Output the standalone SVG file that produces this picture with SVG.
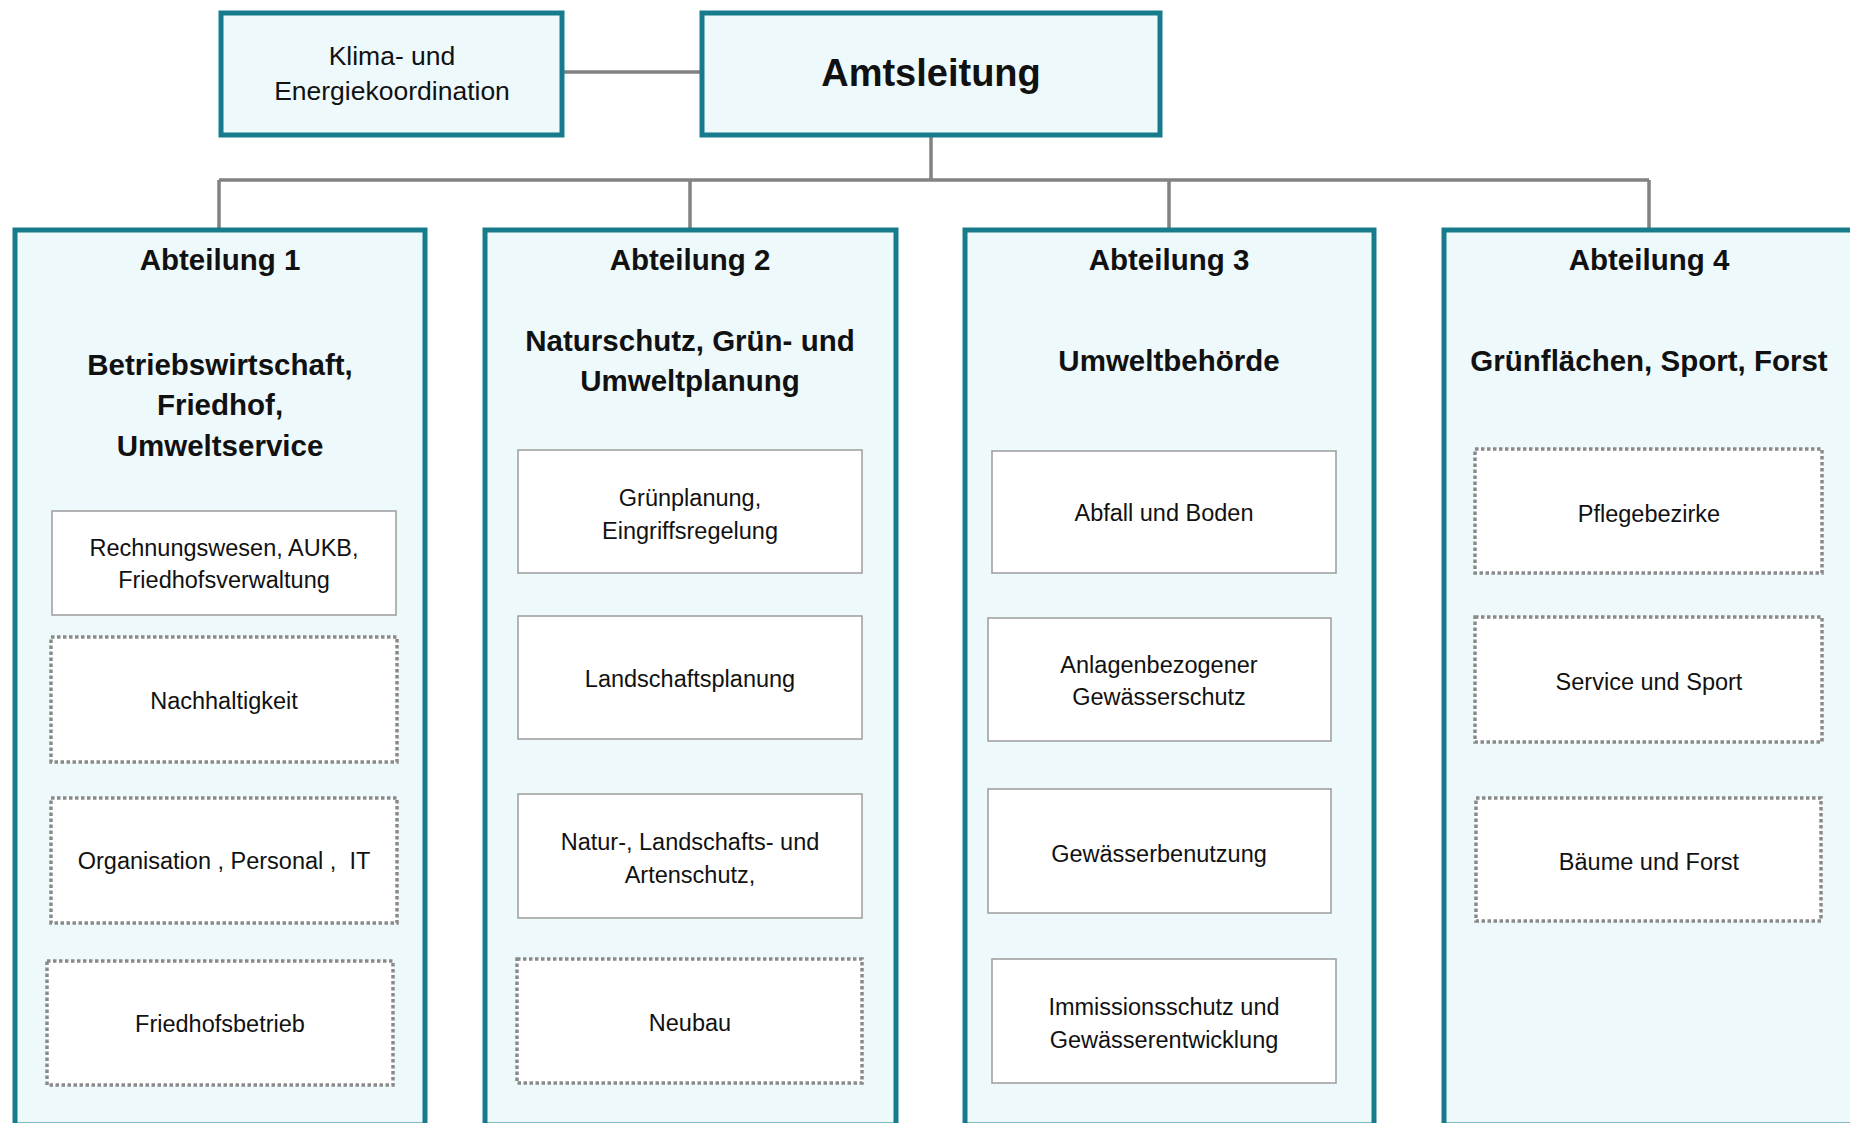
<svg xmlns="http://www.w3.org/2000/svg" width="1850" height="1123" viewBox="0 0 1850 1123">
<style>
  .top { fill: #EEF9FC; stroke: #167C8B; stroke-width: 5; }
  .dept { fill: #EEF9FC; stroke: #167C8B; stroke-width: 5; }
  .sub { fill: #FFFFFF; stroke: #9C9C9C; stroke-width: 1.5; }
  .dot { fill: #FFFFFF; stroke: #8A8A8A; stroke-width: 3.5; stroke-dasharray: 3.5 2.5; }
  .conn { fill: none; stroke: #828282; stroke-width: 3.5; }
  text { font-family: "Liberation Sans", Arial, sans-serif; fill: #111111; text-anchor: middle; }
  .t { font-size: 23.5px; }
  .k { font-size: 26.5px; }
  .h { font-size: 29.5px; font-weight: bold; }
  .amt { font-size: 38px; font-weight: bold; }
</style>
<rect width="1850" height="1123" fill="#FFFFFF"/>

<g id="connectors">
  <line class="conn" x1="563" y1="72" x2="701" y2="72" stroke-width="4.5"/>
  <line class="conn" x1="931" y1="135" x2="931" y2="180"/>
  <line class="conn" x1="219" y1="180" x2="1649" y2="180"/>
  <line class="conn" x1="219" y1="180" x2="219" y2="228"/>
  <line class="conn" x1="690" y1="180" x2="690" y2="228"/>
  <line class="conn" x1="1169" y1="180" x2="1169" y2="228"/>
  <line class="conn" x1="1649" y1="180" x2="1649" y2="228"/>
</g>

<g id="klima">
  <rect class="top" x="221" y="13" width="341" height="122"/>
  <text class="k" x="392" y="65">Klima- und</text>
  <text class="k" x="392" y="100">Energiekoordination</text>
</g>

<g id="amtsleitung">
  <rect class="top" x="702" y="13" width="458" height="122"/>
  <text class="amt" x="931" y="86">Amtsleitung</text>
</g>

<g id="abteilung1">
  <rect class="dept" x="15" y="230" width="410" height="895"/>
  <text class="h" x="220" y="270">Abteilung 1</text>
  <text class="h" x="220" y="375">Betriebswirtschaft,</text>
  <text class="h" x="220" y="415">Friedhof,</text>
  <text class="h" x="220" y="456">Umweltservice</text>
</g>
<g id="a1-rechnungswesen">
  <rect class="sub" x="52" y="511" width="344" height="104"/>
  <text class="t" x="224" y="556">Rechnungswesen, AUKB,</text>
  <text class="t" x="224" y="588">Friedhofsverwaltung</text>
</g>
<g id="a1-nachhaltigkeit">
  <rect class="dot" x="51" y="637" width="346" height="125"/>
  <text class="t" x="224" y="709">Nachhaltigkeit</text>
</g>
<g id="a1-organisation">
  <rect class="dot" x="51" y="798" width="346" height="125"/>
  <text class="t" x="224" y="869" xml:space="preserve">Organisation , Personal ,  IT</text>
</g>
<g id="a1-friedhofsbetrieb">
  <rect class="dot" x="47" y="961" width="346" height="124"/>
  <text class="t" x="220" y="1032">Friedhofsbetrieb</text>
</g>

<g id="abteilung2">
  <rect class="dept" x="485" y="230" width="411" height="895"/>
  <text class="h" x="690" y="270">Abteilung 2</text>
  <text class="h" x="690" y="351">Naturschutz, Grün- und</text>
  <text class="h" x="690" y="391">Umweltplanung</text>
</g>
<g id="a2-gruenplanung">
  <rect class="sub" x="518" y="450" width="344" height="123"/>
  <text class="t" x="690" y="506">Grünplanung,</text>
  <text class="t" x="690" y="539">Eingriffsregelung</text>
</g>
<g id="a2-landschaftsplanung">
  <rect class="sub" x="518" y="616" width="344" height="123"/>
  <text class="t" x="690" y="687">Landschaftsplanung</text>
</g>
<g id="a2-naturschutz">
  <rect class="sub" x="518" y="794" width="344" height="124"/>
  <text class="t" x="690" y="850">Natur-, Landschafts- und</text>
  <text class="t" x="690" y="883">Artenschutz,</text>
</g>
<g id="a2-neubau">
  <rect class="dot" x="517" y="959" width="345" height="124"/>
  <text class="t" x="690" y="1031">Neubau</text>
</g>

<g id="abteilung3">
  <rect class="dept" x="965" y="230" width="409" height="895"/>
  <text class="h" x="1169" y="270">Abteilung 3</text>
  <text class="h" x="1169" y="371">Umweltbehörde</text>
</g>
<g id="a3-abfall">
  <rect class="sub" x="992" y="451" width="344" height="122"/>
  <text class="t" x="1164" y="521">Abfall und Boden</text>
</g>
<g id="a3-anlagen">
  <rect class="sub" x="988" y="618" width="343" height="123"/>
  <text class="t" x="1159" y="673">Anlagenbezogener</text>
  <text class="t" x="1159" y="705">Gewässerschutz</text>
</g>
<g id="a3-benutzung">
  <rect class="sub" x="988" y="789" width="343" height="124"/>
  <text class="t" x="1159" y="862">Gewässerbenutzung</text>
</g>
<g id="a3-immission">
  <rect class="sub" x="992" y="959" width="344" height="124"/>
  <text class="t" x="1164" y="1015">Immissionsschutz und</text>
  <text class="t" x="1164" y="1048">Gewässerentwicklung</text>
</g>

<g id="abteilung4">
  <rect class="dept" x="1444" y="230" width="420" height="895"/>
  <text class="h" x="1649" y="270">Abteilung 4</text>
  <text class="h" x="1649" y="371">Grünflächen, Sport, Forst</text>
</g>
<g id="a4-pflege">
  <rect class="dot" x="1475" y="449" width="347" height="124"/>
  <text class="t" x="1649" y="522">Pflegebezirke</text>
</g>
<g id="a4-service">
  <rect class="dot" x="1475" y="617" width="347" height="125"/>
  <text class="t" x="1649" y="690">Service und Sport</text>
</g>
<g id="a4-baeume">
  <rect class="dot" x="1476" y="798" width="345" height="123"/>
  <text class="t" x="1649" y="870">Bäume und Forst</text>
</g>
</svg>
